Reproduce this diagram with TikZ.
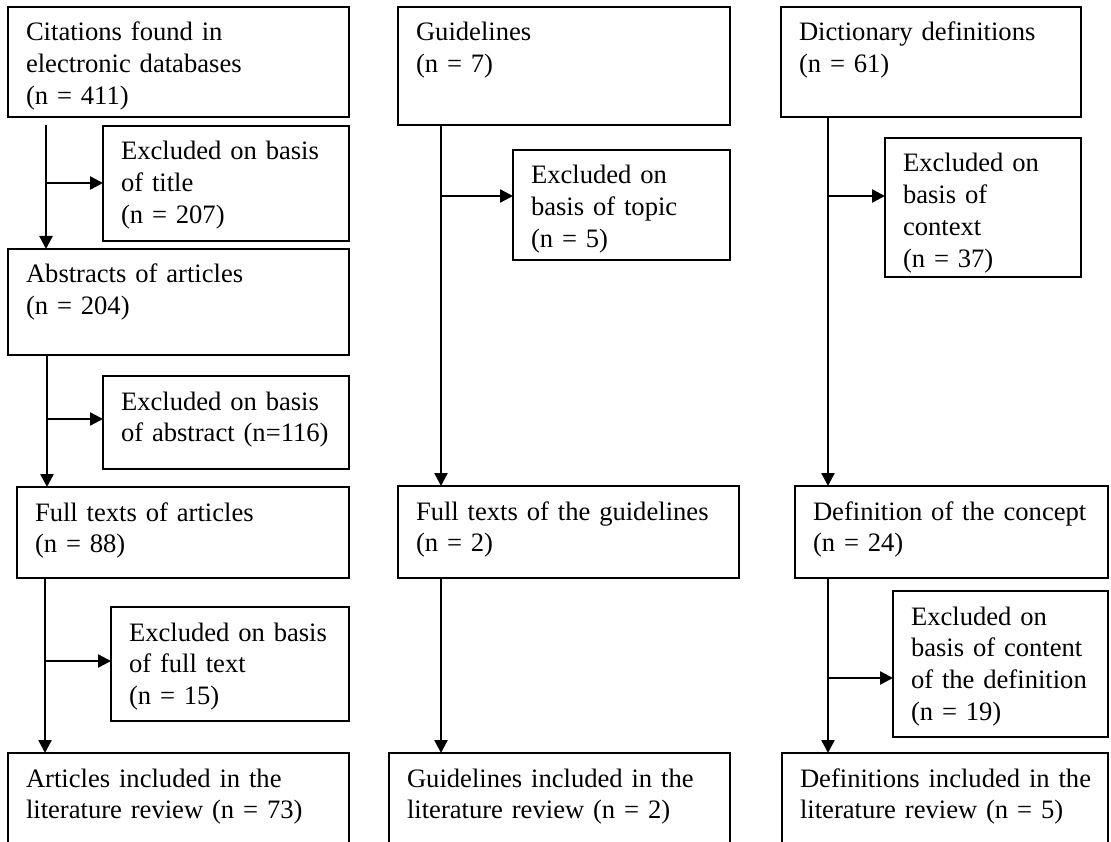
\documentclass[tikz,border=0pt]{standalone}
\usepackage{fontspec}
\setmainfont{Liberation Serif}
\usetikzlibrary{arrows.meta}
\tikzset{
	box/.style={draw,line width=1.6pt,outer sep=0pt,anchor=north west,align=left,inner xsep=18pt,inner ysep=0pt,text height=34pt,font=\fontsize{26.6}{31.7}\selectfont},
	flow/.style={line width=2.4pt,-{Triangle[length=13pt,width=13pt]}}
}
\begin{document}
\begin{tikzpicture}[x=1pt,y=-1pt]
	\useasboundingbox (0,0) rectangle (1111,842);
	
	% articles
	\node[box,text width=305pt,text depth=76pt] at (8,7)(cit){Citations found in\\electronic databases\\(n = 411)};
	\node[box,text width=210pt,text depth=81pt] at (103,126)(ttl){Excluded on basis\\of title\\(n = 207)};
	\node[box,text width=305pt,text depth=72pt] at (8,249)(abs){Abstracts of articles\\(n = 204)};
	\node[box,text width=210pt,text depth=59pt] at (103,376)(xabs){\mbox{Excluded on basis}\\\mbox{of abstract (n=116)}};
	\node[box,text width=296pt,text depth=57pt] at (17,487)(ful){Full texts of articles\\(n = 88)};
	\node[box,text width=202pt,text depth=80pt] at (111,607)(xful){Excluded on basis\\of full text\\(n = 15)};
	\node[box,text width=305pt,text depth=86pt] at (8,753)(art){Articles included in the\\literature review (n = 73)};
	\coordinate (s1) at (46,125);
	\coordinate (b1) at (46,183);
	\coordinate (b2) at (47,419);
	\coordinate (b3) at (45,661);
	\draw[flow](s1)--(abs.north -| s1);
	\draw[flow](b1)--(b1 -| ttl.west);
	\draw[flow](abs.south -| b2)--(ful.north -| b2);
	\draw[flow](b2)--(b2 -| xabs.west);
	\draw[flow](ful.south -| b3)--(art.north -| b3);
	\draw[flow](b3)--(b3 -| xful.west);
	
	% guidelines
	\node[box,text width=296pt,text depth=84pt] at (398,7)(gui){Guidelines\\(n = 7)};
	\node[box,text width=181pt,text depth=76pt] at (513,150)(xtop){Excluded on\\basis of topic\\(n = 5)};
	\node[box,text width=305pt,text depth=58pt] at (398,486)(gft){Full texts of the guidelines\\(n = 2)};
	\node[box,text width=305pt,text depth=86pt] at (389,753)(gin){Guidelines included in the\\literature review (n = 2)};
	\coordinate (b4) at (441,196);
	\draw[flow](gui.south -| b4)--(gft.north -| b4);
	\draw[flow](b4)--(b4 -| xtop.west);
	\draw[flow](gft.south -| b4)--(gin.north -| b4);
	
	% dictionaries
	\node[box,text width=264pt,text depth=76pt] at (781,7)(dic){Dictionary definitions\\(n = 61)};
	\node[box,text width=160pt,text depth=105pt] at (885,138)(xctx){Excluded on\\basis of\\context\\(n = 37)};
	\node[box,text width=277pt,text depth=58pt] at (795,486)(dfc){\mbox{Definition of the concept}\\(n = 24)};
	\node[box,text width=179pt,text depth=112pt] at (893,591)(xcnt){Excluded on\\basis of content\\\mbox{of the definition}\\(n = 19)};
	\node[box,text width=290pt,text depth=86pt] at (782,753)(din){\mbox{Definitions included in the}\\literature review (n = 5)};
	\coordinate (b5) at (828,196);
	\coordinate (b6) at (828,678);
	\draw[flow](dic.south -| b5)--(dfc.north -| b5);
	\draw[flow](b5)--(b5 -| xctx.west);
	\draw[flow](dfc.south -| b6)--(din.north -| b6);
	\draw[flow](b6)--(b6 -| xcnt.west);
	
\end{tikzpicture}
\end{document}
